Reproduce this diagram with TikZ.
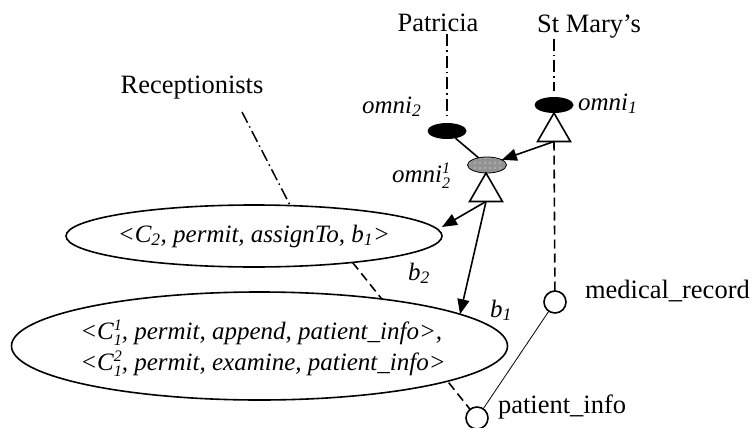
\documentclass[tikz,border=0pt]{standalone}
\usepackage{fontspec}
\setmainfont{Liberation Serif}
\usetikzlibrary{shapes.geometric,arrows.meta,patterns.meta,backgrounds}
% subscript with a superscript stacked above it
\newcommand{\subsupr}[2]{\rlap{\raisebox{-6pt}{\fontsize{16}{16}\selectfont #1}}\raisebox{9pt}{\fontsize{16}{16}\selectfont #2}}
\begin{document}
\begin{tikzpicture}[x=1pt,y=-1pt,
  every node/.style={font=\fontsize{26.5}{31}\selectfont, inner sep=0pt, outer sep=0pt},
  lbl/.style={anchor=base},
  tag/.style={anchor=base west, font=\fontsize{25}{31}\selectfont\itshape},
  blob/.style={ellipse, fill=black, minimum width=39pt, minimum height=16pt},
  greyblob/.style={ellipse, draw=black, line width=0.8pt, preaction={fill=gray!85},
    pattern={Dots[distance=5pt, radius=0.7pt]}, pattern color=white,
    minimum width=39pt, minimum height=16pt},
  tri/.style={regular polygon, regular polygon sides=3, draw, line width=1.6pt,
    fill=white, minimum size=38pt, anchor=north},
  ring/.style={circle, draw, line width=1.6pt, fill=white, minimum size=22pt},
  role/.style={ellipse, draw, line width=1.6pt, fill=white},
  roletext/.style={font=\fontsize{25}{31}\selectfont\itshape, align=left},
  dashdot/.style={line width=1.5pt, dash pattern=on 12pt off 4pt on 1.5pt off 4pt},
  dashline/.style={line width=1.6pt, dash pattern=on 9pt off 5pt},
  link/.style={line width=1.6pt},
  grant/.style={line width=1.6pt, -{Triangle[length=15pt,width=12pt]}},
]
\useasboundingbox (0,0) rectangle (752,428);

% users and roles at the top
\node[lbl] (patricia) at (438,32) {Patricia};
\node[lbl] (stmarys) at (589,33) {St Mary's};
\node[lbl] (recep) at (192,93) {Receptionists};

% omni-roles
\node[blob] (o1) at (554,105) {};
\node[tri] (t1) at (554,113) {};
\node[blob] (o2) at (447,131) {};
\node[greyblob] (o21) at (487,165) {};
\node[tri] (t2) at (486,173) {};

\node[tag] (o2l) at (362,113) {omni\textsubscript{2}};
\node[tag] (o1l) at (578,110) {omni\textsubscript{1}};
\node[tag] (o21l) at (392,182) {omni\subsupr{2}{1}};

% privilege ellipses
\node[role, minimum width=376pt, minimum height=62pt] (e1) at (254,236) {};
\node[roletext] (e1t) at (e1) {<C\textsubscript{2}, permit, assignTo, b\textsubscript{1}>};
\node[role, minimum width=496pt, minimum height=108pt] (e2) at (259.5,346) {};
\node[roletext] (e2t) at (263,348) {<C\subsupr{1}{1}, permit, append, patient\_info>,\\
  <C\subsupr{1}{2}, permit, examine, patient\_info>};

% objects
\node[ring] (mr) at (555,302) {};
\node[ring] (pi) at (477,418) {};
\node[anchor=base west] (mrl) at (585,298) {medical\_record};
\node[anchor=base west] (pil) at (498,413) {patient\_info};
\node[tag] (b2) at (408,280) {b\textsubscript{2}};
\node[tag] (b1) at (490,317) {b\textsubscript{1}};

% connectors
\begin{pgfonlayer}{background}
  \draw[dashline] (e1.-15.5) -- (pi);
\end{pgfonlayer}
\draw[dashdot, shorten <=2pt, shorten >=6pt] (patricia.south -| o2.north) -- (o2.north);
\draw[dashdot, shorten >=6pt] (stmarys.south -| o1.north) -- (o1.north);
\coordinate (rtop) at ([xshift=50pt,yshift=-19pt]recep.base);
\draw[dashdot] (rtop) -- (e1.40);
\draw[link] (o2) -- (o21);
\draw[grant] (t1.south) -- (o21);
\draw[dashline] (t1.south) -- (mr);
\draw[line width=0.8pt] (mr) -- (pi);
\draw[grant] (t2.south) -- ([yshift=9pt]e1.east);
\draw[grant] (t2.south) -- (e2.9.5);
\end{tikzpicture}
\end{document}
